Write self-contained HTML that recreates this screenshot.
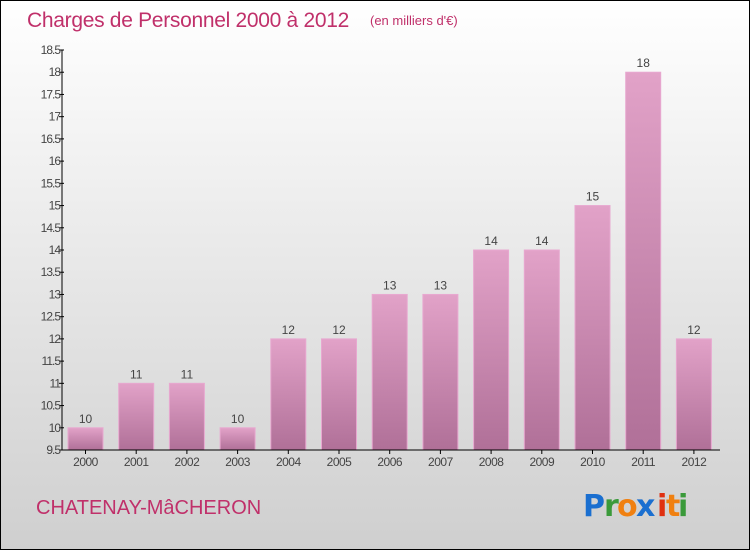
<!DOCTYPE html>
<html><head><meta charset="utf-8"><style>
body{margin:0}
#c{width:750px;height:550px;position:relative;font-family:"Liberation Sans",sans-serif}
</style></head><body>
<div id="c">
<svg width="750" height="550" xmlns="http://www.w3.org/2000/svg">
<defs>
<linearGradient id="bg" x1="0" y1="0" x2="0" y2="1"><stop offset="0" stop-color="#ffffff"/><stop offset="1" stop-color="#cfcfcf"/></linearGradient>
<linearGradient id="bar" x1="0" y1="0" x2="0" y2="1"><stop offset="0" stop-color="#e2a2c8"/><stop offset="1" stop-color="#b07098"/></linearGradient>
</defs>
<rect x="0.5" y="0.5" width="749" height="549" fill="url(#bg)" stroke="#000"/>
<text x="27" y="27" font-size="21" fill="#c0306a" letter-spacing="-0.3">Charges de Personnel 2000 à 2012</text>
<text x="370" y="25" font-size="13" fill="#c0306a">(en milliers d'€)</text>
<g id="yaxis"></g>
<g id="bars"></g>
<g id="xaxis"></g>
<text x="36" y="514" font-size="20" fill="#c0306a">CHATENAY-MâCHERON</text>
<g font-size="30" font-weight="bold" font-family="'DejaVu Sans',sans-serif">
<text x="583" y="516" fill="#1a6fd0">P</text><text x="604" y="516" fill="#3a9a3a">r</text><text x="617" y="516" fill="#f08010">o</text><text x="636" y="516" fill="#1a6fd0">x</text><text x="657" y="516" fill="#e03010">i</text><text x="666" y="516" fill="#f08010">t</text><text x="678" y="516" fill="#3a9a3a">i</text>
</g>
</svg>
</div>
<script>
const years=["2000","2001","2002","2003","2004","2005","2006","2007","2008","2009","2010","2011","2012"];
const values=[10,11,11,10,12,12,13,13,14,14,15,18,12];
const yTicks=[9.5,10,10.5,11,11.5,12,12.5,13,13.5,14,14.5,15,15.5,16,16.5,17,17.5,18,18.5];
const NS="http://www.w3.org/2000/svg";
const yMin=9.5,yMax=18.5,plotTop=50,plotBot=450,axX=62;
function ys(v){return plotBot-(v-yMin)/(yMax-yMin)*(plotBot-plotTop);}
function xc(i){return 85.5+i*50.7;}
function mk(t,a,p){const e=document.createElementNS(NS,t);for(const k in a)e.setAttribute(k,a[k]);p.appendChild(e);return e;}
const ya=document.getElementById('yaxis'),ba=document.getElementById('bars'),xa=document.getElementById('xaxis');
mk('line',{x1:axX,y1:plotTop,x2:axX,y2:plotBot,stroke:'#000'},ya);
yTicks.forEach(t=>{
 mk('line',{x1:axX-3,y1:ys(t),x2:axX+2,y2:ys(t),stroke:'#000'},ya);
 const tx=mk('text',{x:axX-2,y:ys(t)+4,'font-size':12,fill:'#444','text-anchor':'end','letter-spacing':'-1'},ya);
 tx.textContent=String(t);
 
 
});
mk('line',{x1:axX,y1:plotBot,x2:720,y2:plotBot,stroke:'#000'},xa);
years.forEach((yr,i)=>{
 const x=xc(i),v=values[i];
 const r=mk('rect',{x:x-17.5,y:ys(v),width:35,height:plotBot-ys(v),fill:'url(#bar)',stroke:'#e8a8d0','stroke-width':1},ba);
 
 
 const lb=mk('text',{x:x,y:ys(v)-5,'font-size':12,fill:'#444','text-anchor':'middle'},ba);
 lb.textContent=String(v);
 
 
 mk('line',{x1:x,y1:plotBot,x2:x,y2:plotBot+4,stroke:'#000'},xa);
 const xl=mk('text',{x:x,y:plotBot+16,'font-size':12,fill:'#444','text-anchor':'middle','letter-spacing':'-0.5'},xa);
 xl.textContent=yr;
 
 
});
</script>
</body></html>
